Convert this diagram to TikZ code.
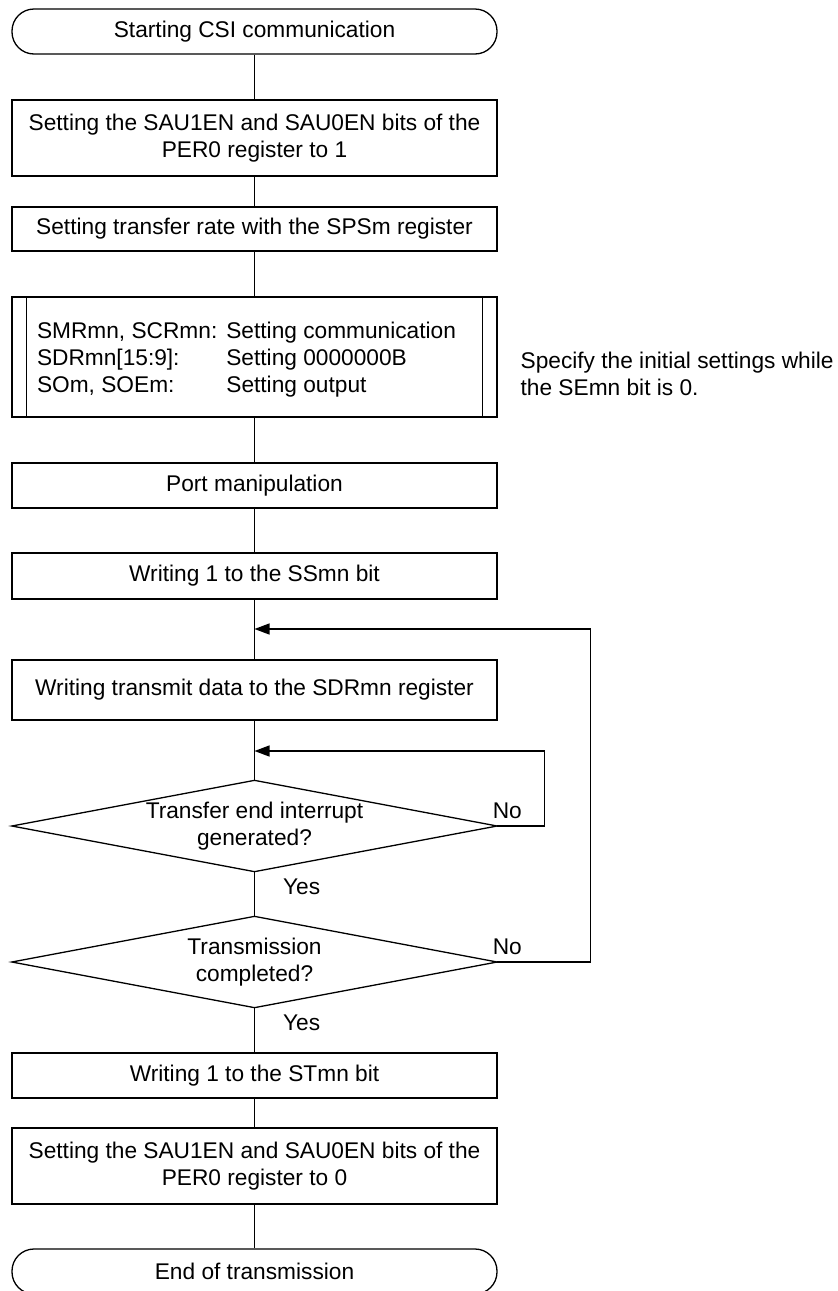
\documentclass[tikz,border=0pt]{standalone}
\usepackage{fontspec}
\setmainfont{Liberation Sans}
\usetikzlibrary{arrows.meta}

\begin{document}
\begin{tikzpicture}[x=1pt,y=-1pt,line width=1.3pt,
  font=\fontsize{22.7}{27}\selectfont,
  proc/.style={draw,rectangle,minimum width=485pt,minimum height=45pt,align=center,inner sep=0pt},
  term/.style={proc,rounded corners=22pt},
  dec/.style={rectangle,minimum width=484pt,minimum height=90pt,align=center,inner sep=0pt},
  lbl/.style={inner sep=0pt},
  arr/.style={-{Triangle[length=15pt,width=11pt]}}]
  \useasboundingbox (0,0) rectangle (838,1291);
  % start and initial settings
  \node[term] (t1) at (254.5,31.5) {Starting CSI communication};
  \node[proc,minimum height=76pt] (b1) at (254.5,138) {Setting the SAU1EN and SAU0EN bits of the\\PER0 register to 1};
  \node[proc,minimum height=44pt] (b2) at (254.5,229) {Setting transfer rate with the SPSm register};
  \node[proc,minimum height=120pt] (b3) at (254.5,357) {};
  \draw ([xshift=15pt]b3.north west) -- ([xshift=15pt]b3.south west);
  \draw ([xshift=-15pt]b3.north east) -- ([xshift=-15pt]b3.south east);
  \node[lbl,anchor=west] (b3txt) at ([xshift=25pt,yshift=-3pt]b3.west) {%
    \begin{tabular}{@{}l@{\hspace{9pt}}l@{}}
      SMRmn, SCRmn: & Setting communication\\
      SDRmn[15:9]:  & Setting 0000000B\\
      SOm, SOEm:    & Setting output
    \end{tabular}};
  \node[lbl,anchor=west,align=left] (note) at (520,373.5) {Specify the initial settings while\\the SEmn bit is 0.};
  \node[proc,minimum height=45pt] (b4) at (254.5,485.5) {Port manipulation};
  \node[proc,minimum height=46pt] (b5) at (254.5,576) {Writing 1 to the SSmn bit};
  % transmit loop
  \coordinate (j1) at (254.5,629);
  \node[proc,minimum height=60pt] (b6) at (254.5,690) {Writing transmit data to the SDRmn register};
  \coordinate (j2) at (254.5,751);
  \node[dec] (d1) at (254.5,826) {Transfer end interrupt\\generated?};
  \node[dec] (d2) at (254.5,962) {Transmission\\completed?};
  \foreach \d in {d1,d2}
    \draw (\d.west) -- (\d.north) -- (\d.east) -- (\d.south) -- cycle;
  \node[lbl,anchor=north west] (yes1) at ([xshift=28pt,yshift=-7pt]d1.south) {Yes};
  \node[lbl,anchor=north west] (yes2) at ([xshift=28pt,yshift=-7pt]d2.south) {Yes};
  \node[lbl,anchor=base west] (no1) at ([xshift=-5pt,yshift=8pt]d1.east) {No};
  \node[lbl,anchor=base west] (no2) at ([xshift=-5pt,yshift=8pt]d2.east) {No};
  % stop
  \node[proc,minimum height=45pt] (b7) at (254.5,1075.5) {Writing 1 to the STmn bit};
  \node[proc,minimum height=76pt] (b8) at (254.5,1166) {Setting the SAU1EN and SAU0EN bits of the\\PER0 register to 0};
  \node[term] (t2) at (254.5,1271.5) {End of transmission};
  % connectors
  \foreach \a/\b in {t1/b1,b1/b2,b2/b3,b3/b4,b4/b5,b5/b6,b6/d1,d1/d2,d2/b7,b7/b8,b8/t2}
    \draw (\a) -- (\b);
  \draw[arr] (d1.east) -- ++(47,0) |- (j2);
  \draw[arr] (d2.east) -- ++(93,0) |- (j1);
\end{tikzpicture}
\end{document}
